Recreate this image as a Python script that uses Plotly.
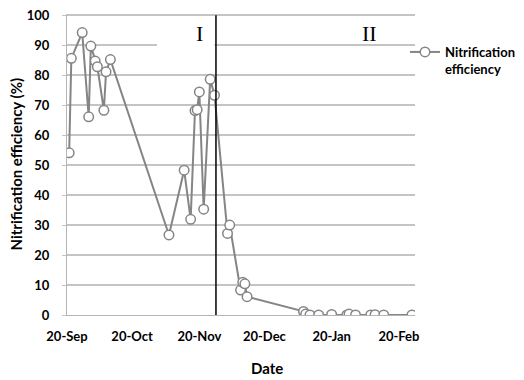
import plotly.graph_objects as go

dates = [
    "2012-09-21", "2012-09-22", "2012-09-27", "2012-09-30", "2012-10-01",
    "2012-10-03", "2012-10-04", "2012-10-07", "2012-10-08", "2012-10-10",
    "2012-11-06", "2012-11-13", "2012-11-16", "2012-11-18", "2012-11-19",
    "2012-11-20", "2012-11-22", "2012-11-25", "2012-11-27",
    "2012-12-03", "2012-12-04", "2012-12-09", "2012-12-10", "2012-12-11", "2012-12-12",
    "2013-01-07", "2013-01-08", "2013-01-10", "2013-01-14", "2013-01-20",
    "2013-01-27", "2013-01-28", "2013-01-31", "2013-02-07", "2013-02-09",
    "2013-02-13", "2013-02-26",
]
efficiency = [
    54.1, 85.6, 94.2, 66.1, 89.7,
    84.7, 82.8, 68.3, 81.1, 85.2,
    26.7, 48.3, 31.9, 68.2, 68.5,
    74.4, 35.3, 78.6, 73.3,
    27.2, 30.0, 8.3, 10.9, 10.4, 6.1,
    1.2, 0.3, 0.0, 0.0, 0.2,
    0.0, 0.3, 0.0, 0.0, 0.1,
    0.0, 0.0,
]
tick_dates = ["2012-09-20", "2012-10-20", "2012-11-20", "2012-12-20", "2013-01-20", "2013-02-20"]
tick_labels = ["20-Sep", "20-Oct", "20-Nov", "20-Dec", "20-Jan", "20-Feb"]
phase_split = "2012-11-27 16:00"
phase_labels = ["I", "II"]
phase_label_dates = ["2012-11-20 07:00", "2013-02-06 14:00"]

FONT = "Lato"
W, H = 524, 380
OFF = 8  # page body margin
# plot area in page pixels: x 67..415, y 14..315
L = 67 - OFF
T = 14 - OFF
R = W - (415 - OFF)
B = H - (315 - OFF)
PW, PH = W - L - R, H - T - B


def px(xp):
    return (xp - OFF - L) / PW


def py(yp):
    return (T + PH - (yp - OFF)) / PH


fig = go.Figure()
fig.add_trace(go.Scatter(
    x=dates, y=efficiency, mode="lines+markers",
    name="<b>Nitrification<br>efficiency</b>",
    line=dict(color="#858585", width=2),
    marker=dict(symbol="circle", size=9.5, color="white",
                line=dict(color="#858585", width=1.5)),
))

# white box behind "I" (covers the 90 gridline as in the original)
fig.add_shape(type="rect", xref="x", yref="y",
              x0="2012-10-31 12:00", x1="2012-11-27 00:00", y0=88.5, y1=98.5,
              fillcolor="white", line=dict(width=0), layer="between")
fig.add_shape(type="line", xref="x", yref="y",
              x0=phase_split, x1=phase_split, y0=0, y1=100,
              line=dict(color="black", width=1.5))

for t, d in zip(phase_labels, phase_label_dates):
    fig.add_annotation(x=d, y=94, xref="x", yref="y", text=t, showarrow=False,
                       font=dict(family="Liberation Serif", size=22, color="black"))

fig.add_annotation(x=px(267), y=py(368), xref="paper", yref="paper",
                   xanchor="center", yanchor="middle",
                   text="<b>Date</b>", showarrow=False,
                   font=dict(family=FONT, size=15, color="black"))
fig.add_annotation(x=px(15), y=0.5, xref="paper", yref="paper",
                   xanchor="center", yanchor="middle",
                   text="<b>Nitrification efficiency (%)</b>", showarrow=False, textangle=-90,
                   font=dict(family=FONT, size=15, color="black"))

fig.update_layout(
    width=W, height=H,
    margin=dict(l=L, r=R, t=T, b=B, autoexpand=False),
    plot_bgcolor="white", paper_bgcolor="white",
    font=dict(family=FONT, size=13, color="black"),
    showlegend=True,
    legend=dict(x=px(405), y=py(37), xanchor="left", yanchor="top",
                bgcolor="rgba(0,0,0,0)", valign="top",
                font=dict(family=FONT, size=13, color="black"),
                tracegroupgap=0, itemwidth=30),
)
fig.update_xaxes(
    type="date", range=["2012-09-20", "2013-02-27 10:00"],
    tickvals=tick_dates, ticktext=tick_labels,
    showgrid=False, zeroline=False, showline=True, linecolor="#b5b5b5", linewidth=1,
    ticks="", ticklabelstandoff=9,
    tickfont=dict(family=FONT, size=13, color="black", weight="bold"),
)
fig.update_yaxes(
    range=[0, 100.4], dtick=10, tick0=0,
    showgrid=True, gridcolor="#c4c4c4", gridwidth=1.5,
    zeroline=False, showline=True, linecolor="#b5b5b5", linewidth=1,
    ticks="outside", ticklen=4, tickcolor="#c4c4c4", ticklabelstandoff=10,
    ticklabeloverflow="allow",
    tickfont=dict(family=FONT, size=13, color="black", weight="bold"),
)

fig.write_html("out.html")
